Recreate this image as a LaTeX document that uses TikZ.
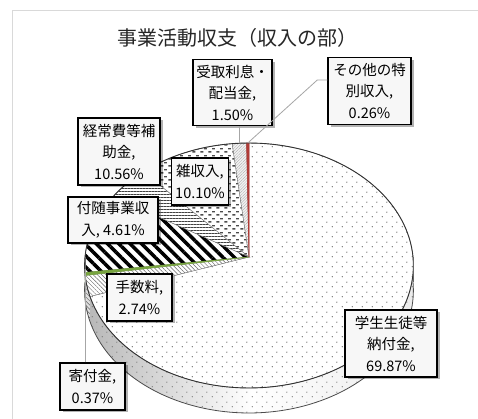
\documentclass[tikz,border=0pt]{standalone}
\usepackage{fontspec}
\newfontfamily\jp{Noto Sans CJK JP}
\usetikzlibrary{patterns,patterns.meta,shadows}
\definecolor{kgreen}{HTML}{77A33F}
\definecolor{kred}{HTML}{B03A36}
\pgfdeclarepatternformonly{zdash}{\pgfqpoint{0pt}{0pt}}{\pgfqpoint{8pt}{7pt}}{\pgfqpoint{8pt}{7pt}}{%
 \pgfpathrectangle{\pgfqpoint{0.5pt}{0.5pt}}{\pgfqpoint{3.2pt}{1.5pt}}%
 \pgfpathrectangle{\pgfqpoint{4.5pt}{4pt}}{\pgfqpoint{3.2pt}{1.5pt}}%
 \pgfusepath{fill}}
\pgfdeclarepatternformonly{zdots}{\pgfqpoint{0pt}{0pt}}{\pgfqpoint{10pt}{10pt}}{\pgfqpoint{10pt}{10pt}}{%
 \pgfpathcircle{\pgfqpoint{2.5pt}{2.5pt}}{0.7pt}%
 \pgfpathcircle{\pgfqpoint{7.5pt}{7.5pt}}{0.7pt}%
 \pgfusepath{fill}}
\pgfmathdeclarefunction{px}{1}{\pgfmathparse{249+164*cos(#1)/(1+0.0695*sin(#1))}}
\pgfmathdeclarefunction{py}{1}{\pgfmathparse{162+121.9*sin(#1)/(1+0.0695*sin(#1))}}
\newcommand\topface[3]{\path[#3] (C) -- plot[domain=#1:#2, samples=60, variable=\t] ({px(\t)},{py(\t)}) -- cycle;}
\newcommand\sideface[3]{\path[#3] plot[domain=#1:#2, samples=60, variable=\t] ({px(\t)},{py(\t)}) -- plot[domain=#2:#1, samples=60, variable=\t] ({px(\t)},{py(\t)-25}) -- cycle;}
\begin{document}
\begin{tikzpicture}[x=1pt,y=1pt,
  lbl/.style={draw=black, line width=1.4pt, fill=gray!6, font={\jp\fontsize{14.5}{21.5}\selectfont}, align=center, inner xsep=3pt, inner ysep=2pt, drop shadow={shadow xshift=2.5pt, shadow yshift=-2.5pt, fill=black, opacity=0.3}},
  leader/.style={draw=gray!70, line width=0.8pt},
  sepl/.style={draw=black!55, line width=0.4pt},
  thick stripes/.style={pattern={Lines[angle=-45,distance=8pt,line width=3.5pt]}, pattern color=black},
  thin hatch/.style={pattern={Lines[angle=-45,distance=3pt,line width=0.5pt]}, pattern color=black!60},
  hlines/.style={pattern={Lines[distance=3pt,line width=0.9pt]}, pattern color=black!75},
]
\useasboundingbox (0,0) rectangle (478,419);
\fill[white] (0,0) rectangle (478,419);
% chart frame
\draw[gray!30, line width=1pt] (12,0) -- (12,408.5) -- (478,408.5);
% title
\node[font={\jp\fontsize{20}{24}\selectfont}, text=black!85] (title) at (237,381) {事業活動収支（収入の部）};
\coordinate (C) at (249,162);
% sides
\sideface{-161.53}{0}{left color=gray!55, right color=gray!15, middle color=white, postaction={pattern=zdots, pattern color=black!55}}
\sideface{-171.40}{-161.53}{preaction={fill=gray!25}, thin hatch}
\sideface{-172.73}{-171.40}{fill=kgreen}
\sideface{-180}{-172.73}{preaction={fill=gray!25}, thick stripes}
% top faces
\topface{-161.53}{90}{preaction={fill=white}, pattern=zdots, pattern color=black!65, sepl}
\topface{-171.40}{-161.53}{preaction={fill=white}, thin hatch, sepl}
\topface{-210.75}{-172.73}{preaction={fill=white}, thick stripes, sepl}
\topface{-227.34}{-210.75}{preaction={fill=white}, hlines, sepl}
\topface{-263.70}{-227.34}{preaction={fill=white}, pattern=zdash, pattern color=black!70, sepl}
\topface{-269.10}{-263.70}{preaction={fill=gray!10}, pattern={Lines[angle=45,distance=2pt,line width=0.3pt]}, pattern color=gray!70, sepl}
\topface{-172.73}{-171.40}{fill=kgreen, draw=kgreen, line width=0.6pt}
\topface{-270}{-269.10}{fill=kred, draw=kred, line width=0.6pt}
% outlines
\draw[black!80, line width=0.9pt] plot[domain=0:360, samples=160, variable=\t] ({px(\t)},{py(\t)}) -- cycle;
\draw[black!70, line width=0.8pt] plot[domain=-180:0, samples=100, variable=\t] ({px(\t)},{py(\t)-25});
\draw[black!60, line width=0.5pt] ({px(-180)},{py(-180)}) -- ++(0,-25);
\draw[black!60, line width=0.5pt] ({px(0)},{py(0)}) -- ++(0,-25);
% leader end points
\coordinate (pUK) at ({px(93.6)},{py(93.6)});
\coordinate (pSO) at ({px(90.47)},{py(90.47)});
\coordinate (pKF) at (85,150);
% labels
\node[lbl, minimum width=79pt, minimum height=66pt] (uk) at (232.5,326.5) {受取利息・\\配当金,\\1.50\%};
\node[lbl, minimum width=83pt, minimum height=67pt] (sono) at (369.5,328) {その他の特\\別収入,\\0.26\%};
\node[lbl, minimum width=82pt, minimum height=67pt] (keijo) at (119,267.5) {経常費等補\\助金,\\10.56\%};
\node[lbl, minimum width=57pt, minimum height=47pt] (zatsu) at (200,237.5) {雑収入,\\10.10\%};
\node[lbl, minimum width=90pt, minimum height=46pt] (fuzui) at (113,199) {付随事業収\\入, 4.61\%};
\node[lbl, minimum width=65pt, minimum height=47pt] (tesu) at (139.5,121.5) {手数料,\\2.74\%};
\node[lbl, minimum width=65pt, minimum height=47pt] (kifu) at (92.5,32.5) {寄付金,\\0.37\%};
\node[lbl, minimum width=92pt, minimum height=67pt] (gaku) at (391,75.5) {学生生徒等\\納付金,\\69.87\%};
% leaders
\begin{scope}[on background layer/.style={}]
\end{scope}
\draw[leader] (uk.south -| pUK) -- (pUK);
\draw[leader] ([yshift=11pt]sono.west) -- ++(-10,0) -- (pSO);
\draw[leader] (kifu.north -| pKF) -- (pKF);
\end{tikzpicture}
\end{document}
